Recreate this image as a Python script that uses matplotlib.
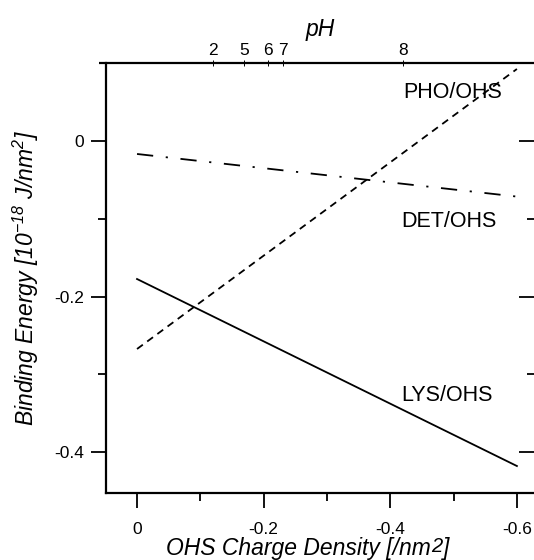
import numpy as np
import matplotlib
matplotlib.use("Agg")
import matplotlib.pyplot as plt
from matplotlib.ticker import FixedLocator, MultipleLocator

plt.rcParams["font.family"] = ["Liberation Sans", "DejaVu Sans"]
plt.rcParams["mathtext.fontset"] = "custom"
plt.rcParams["mathtext.rm"] = "Liberation Sans:italic"
plt.rcParams["mathtext.it"] = "Liberation Sans:italic"
plt.rcParams["axes.unicode_minus"] = False

# data (charge density, binding energy at both ends)
charge = [0.0, -0.6]
lys_ohs = [-0.1775, -0.418]
pho_ohs = [-0.2675, 0.0926]
det_ohs = [-0.0167, -0.0715]

# name, values, line style, label position (data coords)
series = [
    ("LYS/OHS", lys_ohs, "-", (-0.490, -0.327)),
    ("PHO/OHS", pho_ohs, (0, (4, 3)), (-0.498, 0.0630)),
    ("DET/OHS", det_ohs, (0, (9, 7, 1.2, 7)), (-0.493, -0.1040)),
]

x_ticks = [0.0, -0.2, -0.4, -0.6]
x_ticklabels = ["0", "-0.2", "-0.4", "-0.6"]
y_ticks = [0.0, -0.2, -0.4]
y_ticklabels = ["0", "-0.2", "-0.4"]
minor_y = [-0.1, -0.3]

# pH scale on top, placed at the matching charge density
ph_labels = ["2", "5", "6", "7", "8"]
ph_charge = [-0.120, -0.169, -0.207, -0.231, -0.420]

fig = plt.figure(figsize=(5.34, 5.60), dpi=100)
ax = fig.add_axes([106 / 534, 67 / 560, 428 / 534, 430 / 560])

for name, vals, ls, pos in series:
    ax.plot(charge, vals, color="k", lw=1.3, linestyle=ls)
    ax.text(pos[0], pos[1], name, fontsize=15.5, ha="center", va="center")

ax.set_xlim(0.049, -0.627)
ax.set_ylim(-0.4527, 0.1003)

ax.xaxis.set_major_locator(FixedLocator(x_ticks))
ax.set_xticklabels(x_ticklabels)
ax.xaxis.set_minor_locator(MultipleLocator(0.1))
ax.yaxis.set_major_locator(FixedLocator(y_ticks))
ax.set_yticklabels(y_ticklabels)
ax.yaxis.set_minor_locator(FixedLocator(minor_y))

ax.tick_params(which="major", direction="out", length=11, width=1.3,
               labelsize=12.5, pad=5)
ax.tick_params(which="minor", direction="out", length=5.5, width=1.3)
ax.tick_params(axis="x", pad=10)

for side in ("top", "right"):
    ax.spines[side].set_visible(False)
for side in ("left", "bottom"):
    ax.spines[side].set_linewidth(1.6)
# top frame line, sticks out a little past the left spine
ax.plot([-7 / 428, 1], [1, 1], transform=ax.transAxes, color="k",
        lw=1.6, clip_on=False, solid_capstyle="butt")

# right side: inward ticks, no spine
rax = ax.secondary_yaxis("right")
rax.spines["right"].set_visible(False)
rax.yaxis.set_major_locator(FixedLocator(y_ticks))
rax.yaxis.set_minor_locator(FixedLocator(minor_y))
rax.tick_params(which="major", direction="in", length=10.5, width=1.3,
                labelright=False)
rax.tick_params(which="minor", direction="in", length=5.2, width=1.3)

# top pH axis
tax = ax.secondary_xaxis("top")
tax.spines["top"].set_visible(False)
tax.xaxis.set_major_locator(FixedLocator(ph_charge))
tax.set_xticklabels(ph_labels)
tax.xaxis.set_minor_locator(FixedLocator([]))
tax.tick_params(which="major", direction="inout", length=5, width=0.7,
                labelsize=12.5, pad=1)
tax.set_xlabel("pH", fontsize=16.5, style="italic", labelpad=5)

# x label with a near full-size raised "2"
lab = fig.text(166 / 534, 5 / 560, "OHS Charge Density [/nm", fontsize=16.5,
               style="italic", ha="left", va="baseline")
sup = ax.annotate("2", xy=(1, 0), xycoords=lab, xytext=(0.5, 3),
                  textcoords="offset points", fontsize=14.5, style="italic",
                  ha="left", va="bottom", annotation_clip=False)
ax.annotate("]", xy=(1, 0), xycoords=(sup, lab), xytext=(0.3, 0),
            textcoords="offset points", fontsize=16.5, style="italic",
            ha="left", va="bottom", annotation_clip=False)

ax.set_ylabel("Binding Energy [10$^{-18}$ J/nm$^{2}$]", fontsize=16.5,
              style="italic")
ax.yaxis.set_label_coords(-0.152, 0.5)

fig.savefig("out.png", dpi=100)
